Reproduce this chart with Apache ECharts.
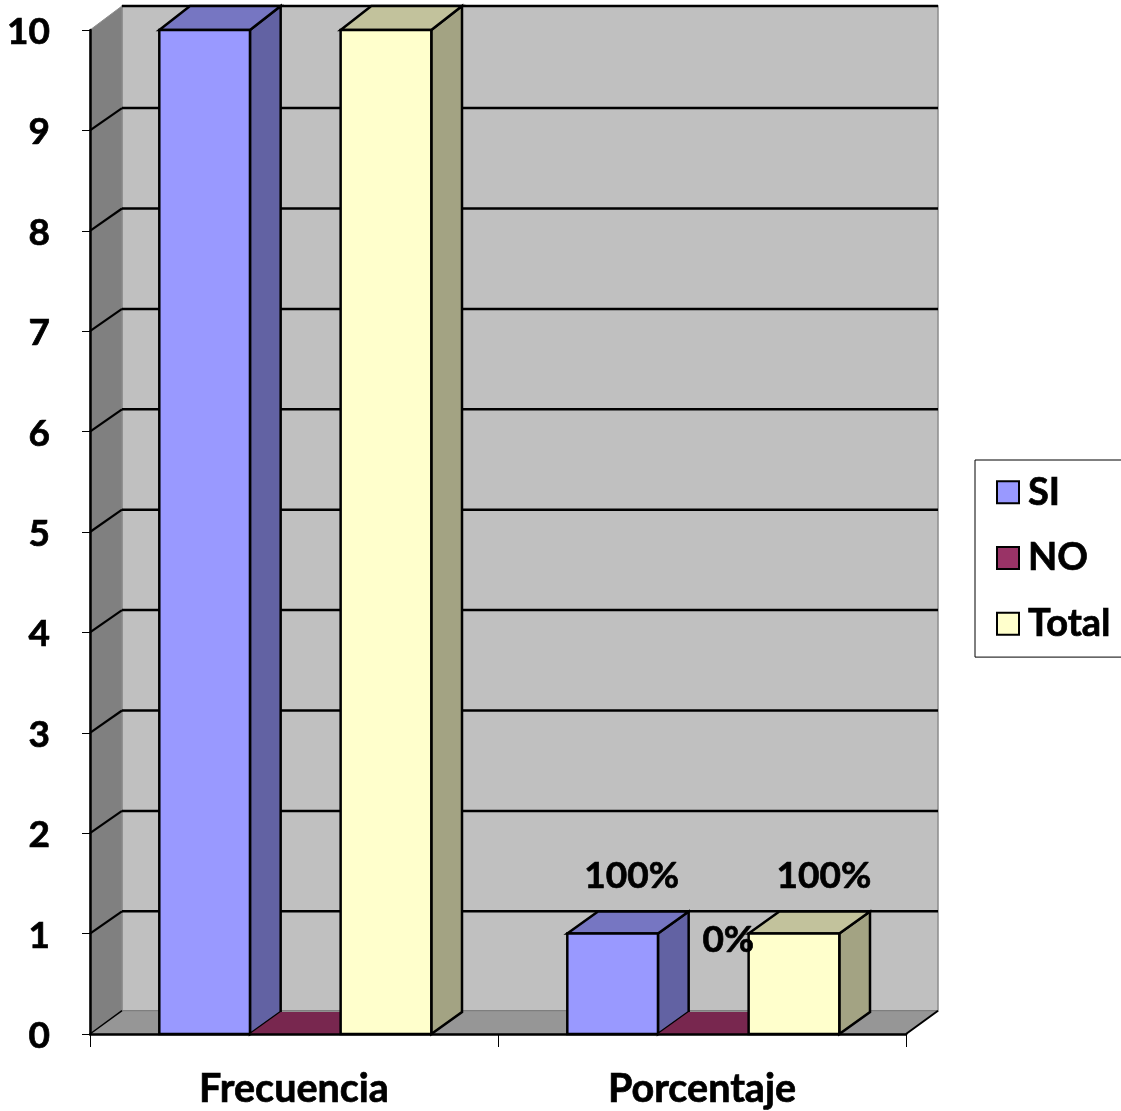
<!DOCTYPE html>
<html><head><meta charset="utf-8">
<style>html,body{margin:0;padding:0;background:#fff}#c{width:1121px;height:1111px}</style>
<script src="https://cdn.jsdelivr.net/npm/echarts@6/dist/echarts.min.js"></script>
</head><body><div id="c"></div>
<script>
const categories = ['Frecuencia', 'Porcentaje'];
const yTicks = [0, 1, 2, 3, 4, 5, 6, 7, 8, 9, 10];
const seriesNames = ['SI', 'NO', 'Total'];
const siValues = [10, 1];
const noValues = [0, 0];
const totalValues = [10, 1];
const percentValues = [1, 0, 1];
const percentLabels = ['100%', '0%', '100%'];

const WALL_DX = 32, WALL_DY = -24, GRID_DY = -22.3, FLOOR_DY = -23.3;
const BAR_DX = 30.7, BAR_DY = -22;
const FONT = 'Lato, Carlito, Calibri, sans-serif';
const HEAVY = {textBorderColor: '#000', textBorderWidth: 0.7};
const palette = {
  SI:    {front: '#9999ff', top: '#7676c2', side: '#6262a3'},
  NO:    {front: '#993366', top: '#78274f', side: '#662143'},
  Total: {front: '#ffffcc', top: '#c2c29c', side: '#a3a383'}
};

function poly(points, fill, stroke, lw, z2) {
  return {type: 'polygon', shape: {points}, z2: z2 || 0,
    style: {fill, stroke: stroke || 'none', lineWidth: lw || 0, lineJoin: 'miter'}};
}
function seg(a, b, color, lw, z2) {
  return {type: 'line', shape: {x1: a[0], y1: a[1], x2: b[0], y2: b[1]}, z2: z2 || 1,
    style: {stroke: color, lineWidth: lw, lineCap: 'butt'}};
}

function renderWalls(params, api) {
  const lb = api.coord([0, 0]);
  const size = api.size([1, 0]);
  const x0 = lb[0] - size[0] / 2, x1 = x0 + size[0] * categories.length;
  const y0 = lb[1], yT = api.coord([0, yTicks[yTicks.length - 1]])[1];
  const c = [];
  c.push(poly([[x0 + WALL_DX, yT + WALL_DY], [x1 + WALL_DX, yT + WALL_DY], [x1 + WALL_DX, y0 + FLOOR_DY], [x0 + WALL_DX, y0 + FLOOR_DY]], '#c0c0c0', '#8c8c8c', 1.5));
  c.push(poly([[x0, yT], [x0 + WALL_DX, yT + WALL_DY], [x0 + WALL_DX, y0 + FLOOR_DY], [x0, y0]], '#808080', '#8c8c8c', 1));
  c.push(poly([[x0, y0], [x1, y0], [x1 + WALL_DX, y0 + FLOOR_DY], [x0 + WALL_DX, y0 + FLOOR_DY]], '#969696', '#7a7a7a', 1));
  yTicks.forEach(t => {
    const y = api.coord([0, t])[1];
    if (t === 0) return;
    const isTop = t === yTicks[yTicks.length - 1];
    const bp = [x0 + WALL_DX, y + (isTop ? WALL_DY : GRID_DY)];
    c.push(seg(bp, [x1 + WALL_DX, bp[1]], '#000', 2.5, 2));
    if (!isTop) c.push(seg([x0, y], bp, '#000', 2.2, 2));
  });
  c.push(seg([x0, y0], [x0 + WALL_DX, y0 + FLOOR_DY], '#000', 1.5, 2));
  c.push(seg([x1, y0], [x1 + WALL_DX, y0 + FLOOR_DY], '#000', 2, 2));
  return {type: 'group', children: c};
}

function barBox(api, catIdx, slot, value) {
  const base = api.coord([catIdx, 0]);
  const top = api.coord([catIdx, value]);
  const bw = api.size([1, 0])[0] / 4.5;
  const l = base[0] + (slot - 1.5) * bw + 1.3;
  return {l, r: l + bw, b: base[1], t: top[1], bw};
}

function renderBar(slot, name) {
  return function (params, api) {
    const value = api.value(1);
    const g = barBox(api, api.value(0), slot, value);
    const col = palette[name];
    const c = [];
    const E = '#000', W = 2.5;
    const tdy = value === yTicks[yTicks.length - 1] ? WALL_DY : BAR_DY;
    if (g.b - g.t > 0.5) {
      c.push(poly([[g.r, g.t], [g.r + BAR_DX, g.t + tdy], [g.r + BAR_DX, g.b + BAR_DY], [g.r, g.b]], col.side, E, W));
      c.push(poly([[g.l, g.t], [g.l + BAR_DX, g.t + tdy], [g.r + BAR_DX, g.t + tdy], [g.r, g.t]], col.top, E, W));
      c.push(poly([[g.l, g.t], [g.r, g.t], [g.r, g.b], [g.l, g.b]], col.front, E, W, 1));
    } else {
      c.push(poly([[g.l, g.t], [g.l + BAR_DX, g.t + BAR_DY], [g.r + BAR_DX, g.t + BAR_DY], [g.r, g.t]], col.top, null, 0));
    }
    return {type: 'group', children: c};
  };
}

const labelShift = [[19, -58], [25, -94], [30, -58]];
function renderLabel(params, api) {
  const i = params.dataIndex;
  const g = barBox(api, 1, i, api.value(1));
  return {type: 'text', x: (g.l + g.r) / 2 + labelShift[i][0], y: g.t + labelShift[i][1], z2: 10,
    style: {text: percentLabels[i], font: 'bold 37px ' + FONT, fill: '#000', stroke: '#000', lineWidth: 0.7, align: 'center', verticalAlign: 'middle'}};
}

const chart = echarts.init(document.getElementById('c'), null, {renderer: 'canvas'});
const valuesBySeries = [siValues, noValues, totalValues];
chart.setOption({
  animation: false,
  backgroundColor: '#fff',
  grid: {left: 90, top: 30, width: 816, height: 1004, containLabel: false},
  legend: {
    data: seriesNames, orient: 'vertical', left: 975, top: 460,
    backgroundColor: '#fff', borderColor: '#000', borderWidth: 1,
    padding: [13, 40, 14, 21], itemWidth: 22, itemHeight: 22, itemGap: 27,
    icon: 'rect', selectedMode: false,
    textStyle: Object.assign({fontFamily: FONT, fontWeight: 'bold', fontSize: 38, color: '#000', padding: [0, 0, 0, 4]}, HEAVY)
  },
  xAxis: {
    type: 'category', data: categories, z: 5,
    axisLine: {show: true, lineStyle: {color: '#000', width: 2.5}},
    axisTick: {show: true, length: 13, lineStyle: {color: '#000', width: 1}},
    axisLabel: Object.assign({fontFamily: FONT, fontWeight: 'bold', fontSize: 39.5, color: '#000', margin: 35}, HEAVY),
    splitLine: {show: false}
  },
  yAxis: {
    type: 'value', min: 0, max: 10, interval: 1, z: 5,
    axisLine: {show: true, lineStyle: {color: '#000', width: 2.5}},
    axisTick: {show: true, length: 8, lineStyle: {color: '#000', width: 1}},
    axisLabel: {
      margin: 40,
      formatter: v => '{a|' + v + '}',
      rich: {a: Object.assign({fontFamily: FONT, fontWeight: 'bold', fontSize: 37, color: '#000', padding: [4, 0, 0, 0]}, HEAVY)}
    },
    splitLine: {show: false}
  },
  series: [
    {type: 'custom', name: 'walls', silent: true, z: 1, renderItem: renderWalls, data: [[0, 0]], encode: {x: 0, y: 1}},
    ...seriesNames.map((n, s) => ({
      type: 'custom', name: n, z: 2 + s, clip: false, renderItem: renderBar(s, n),
      itemStyle: {color: palette[n].front, borderColor: '#000', borderWidth: 2.5},
      data: categories.map((c, i) => [i, valuesBySeries[s][i]]), encode: {x: 0, y: 1}
    })),
    {type: 'custom', name: 'labels', silent: true, z: 9, clip: false, renderItem: renderLabel,
      data: percentValues.map((v, i) => [i, v]), encode: {x: 0, y: 1}}
  ]
});
</script></body></html>
